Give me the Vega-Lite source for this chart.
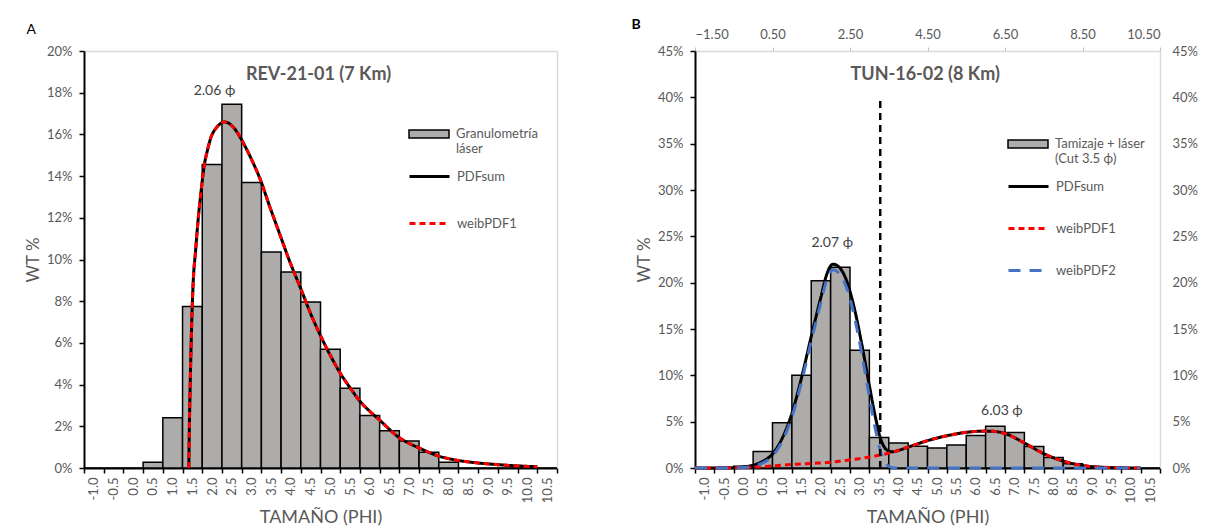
{
  "$schema": "https://vega.github.io/schema/vega-lite/v6.json",
  "background": "white",
  "padding": {"left": 24, "top": 18, "right": 5, "bottom": 0},
  "spacing": 73,
  "config": {
    "font": "Lato",
    "view": {"stroke": null},
    "axis": {"labelFont": "Lato", "labelColor": "#595959", "labelFontSize": 13, "titleFont": "Lato", "titleColor": "#595959", "titleFontWeight": "normal", "grid": false},
    "legend": {"labelFont": "Lato", "labelFontSize": 13, "labelColor": "#595959", "padding": 0},
    "title": {"font": "Lato"}
  },
  "resolve": {
    "scale": {"fill": "independent", "stroke": "independent", "strokeDash": "independent"},
    "legend": {"fill": "independent", "stroke": "independent", "strokeDash": "independent"}
  },
  "datasets": {
    "barsA": [
      {"bin": "-1.0", "wt": 0}, {"bin": "-0.5", "wt": 0}, {"bin": "0.0", "wt": 0}, {"bin": "0.5", "wt": 0.27},
      {"bin": "1.0", "wt": 2.41}, {"bin": "1.5", "wt": 7.75}, {"bin": "2.0", "wt": 14.56}, {"bin": "2.5", "wt": 17.45},
      {"bin": "3.0", "wt": 13.69}, {"bin": "3.5", "wt": 10.36}, {"bin": "4.0", "wt": 9.4}, {"bin": "4.5", "wt": 7.96},
      {"bin": "5.0", "wt": 5.7}, {"bin": "5.5", "wt": 3.82}, {"bin": "6.0", "wt": 2.52}, {"bin": "6.5", "wt": 1.79},
      {"bin": "7.0", "wt": 1.29}, {"bin": "7.5", "wt": 0.75}, {"bin": "8.0", "wt": 0.27}, {"bin": "8.5", "wt": 0},
      {"bin": "9.0", "wt": 0}, {"bin": "9.5", "wt": 0}, {"bin": "10.0", "wt": 0}, {"bin": "10.5", "wt": 0}
    ],
    "barsB": [
      {"bin": "-1.0", "wt": 0}, {"bin": "-0.5", "wt": 0}, {"bin": "0.0", "wt": 0.18}, {"bin": "0.5", "wt": 1.77},
      {"bin": "1.0", "wt": 4.87}, {"bin": "1.5", "wt": 10.0}, {"bin": "2.0", "wt": 20.2}, {"bin": "2.5", "wt": 21.66},
      {"bin": "3.0", "wt": 12.7}, {"bin": "3.5", "wt": 3.29}, {"bin": "4.0", "wt": 2.71}, {"bin": "4.5", "wt": 2.35},
      {"bin": "5.0", "wt": 2.17}, {"bin": "5.5", "wt": 2.49}, {"bin": "6.0", "wt": 3.5}, {"bin": "6.5", "wt": 4.51},
      {"bin": "7.0", "wt": 3.83}, {"bin": "7.5", "wt": 2.31}, {"bin": "8.0", "wt": 1.12}, {"bin": "8.5", "wt": 0.47},
      {"bin": "9.0", "wt": 0.14}, {"bin": "9.5", "wt": 0.07}, {"bin": "10.0", "wt": 0}, {"bin": "10.5", "wt": 0}
    ],
    "curvesA": [
      {"series": "PDFsum", "phi": 1.16, "pct": 0}, {"series": "PDFsum", "phi": 1.17, "pct": 1.6}, {"series": "PDFsum", "phi": 1.19, "pct": 3.6},
      {"series": "PDFsum", "phi": 1.23, "pct": 6.8}, {"series": "PDFsum", "phi": 1.27, "pct": 8.9}, {"series": "PDFsum", "phi": 1.33, "pct": 10.4},
      {"series": "PDFsum", "phi": 1.4, "pct": 12.0}, {"series": "PDFsum", "phi": 1.46, "pct": 13.1}, {"series": "PDFsum", "phi": 1.55, "pct": 14.5},
      {"series": "PDFsum", "phi": 1.64, "pct": 15.3}, {"series": "PDFsum", "phi": 1.72, "pct": 15.85}, {"series": "PDFsum", "phi": 1.85, "pct": 16.3},
      {"series": "PDFsum", "phi": 1.95, "pct": 16.5}, {"series": "PDFsum", "phi": 2.06, "pct": 16.6}, {"series": "PDFsum", "phi": 2.2, "pct": 16.5},
      {"series": "PDFsum", "phi": 2.35, "pct": 16.2}, {"series": "PDFsum", "phi": 2.48, "pct": 15.8}, {"series": "PDFsum", "phi": 2.75, "pct": 14.8},
      {"series": "PDFsum", "phi": 2.98, "pct": 13.8}, {"series": "PDFsum", "phi": 3.2, "pct": 12.6}, {"series": "PDFsum", "phi": 3.45, "pct": 11.3},
      {"series": "PDFsum", "phi": 3.7, "pct": 10.0}, {"series": "PDFsum", "phi": 4.0, "pct": 8.6}, {"series": "PDFsum", "phi": 4.25, "pct": 7.4},
      {"series": "PDFsum", "phi": 4.5, "pct": 6.35}, {"series": "PDFsum", "phi": 4.75, "pct": 5.4}, {"series": "PDFsum", "phi": 5.0, "pct": 4.55},
      {"series": "PDFsum", "phi": 5.25, "pct": 3.85}, {"series": "PDFsum", "phi": 5.5, "pct": 3.2}, {"series": "PDFsum", "phi": 5.75, "pct": 2.72},
      {"series": "PDFsum", "phi": 6.0, "pct": 2.3}, {"series": "PDFsum", "phi": 6.25, "pct": 1.85}, {"series": "PDFsum", "phi": 6.5, "pct": 1.45},
      {"series": "PDFsum", "phi": 6.75, "pct": 1.18}, {"series": "PDFsum", "phi": 7.0, "pct": 0.96}, {"series": "PDFsum", "phi": 7.25, "pct": 0.75},
      {"series": "PDFsum", "phi": 7.5, "pct": 0.57}, {"series": "PDFsum", "phi": 7.75, "pct": 0.45}, {"series": "PDFsum", "phi": 8.0, "pct": 0.36},
      {"series": "PDFsum", "phi": 8.5, "pct": 0.24}, {"series": "PDFsum", "phi": 9.0, "pct": 0.16}, {"series": "PDFsum", "phi": 9.5, "pct": 0.1},
      {"series": "PDFsum", "phi": 10.0, "pct": 0.06},
      {"series": "weibPDF1", "phi": 1.16, "pct": 0}, {"series": "weibPDF1", "phi": 1.17, "pct": 1.6}, {"series": "weibPDF1", "phi": 1.19, "pct": 3.6},
      {"series": "weibPDF1", "phi": 1.23, "pct": 6.8}, {"series": "weibPDF1", "phi": 1.27, "pct": 8.9}, {"series": "weibPDF1", "phi": 1.33, "pct": 10.4},
      {"series": "weibPDF1", "phi": 1.4, "pct": 12.0}, {"series": "weibPDF1", "phi": 1.46, "pct": 13.1}, {"series": "weibPDF1", "phi": 1.55, "pct": 14.5},
      {"series": "weibPDF1", "phi": 1.64, "pct": 15.3}, {"series": "weibPDF1", "phi": 1.72, "pct": 15.85}, {"series": "weibPDF1", "phi": 1.85, "pct": 16.3},
      {"series": "weibPDF1", "phi": 1.95, "pct": 16.5}, {"series": "weibPDF1", "phi": 2.06, "pct": 16.6}, {"series": "weibPDF1", "phi": 2.2, "pct": 16.5},
      {"series": "weibPDF1", "phi": 2.35, "pct": 16.2}, {"series": "weibPDF1", "phi": 2.48, "pct": 15.8}, {"series": "weibPDF1", "phi": 2.75, "pct": 14.8},
      {"series": "weibPDF1", "phi": 2.98, "pct": 13.8}, {"series": "weibPDF1", "phi": 3.2, "pct": 12.6}, {"series": "weibPDF1", "phi": 3.45, "pct": 11.3},
      {"series": "weibPDF1", "phi": 3.7, "pct": 10.0}, {"series": "weibPDF1", "phi": 4.0, "pct": 8.6}, {"series": "weibPDF1", "phi": 4.25, "pct": 7.4},
      {"series": "weibPDF1", "phi": 4.5, "pct": 6.35}, {"series": "weibPDF1", "phi": 4.75, "pct": 5.4}, {"series": "weibPDF1", "phi": 5.0, "pct": 4.55},
      {"series": "weibPDF1", "phi": 5.25, "pct": 3.85}, {"series": "weibPDF1", "phi": 5.5, "pct": 3.2}, {"series": "weibPDF1", "phi": 5.75, "pct": 2.72},
      {"series": "weibPDF1", "phi": 6.0, "pct": 2.3}, {"series": "weibPDF1", "phi": 6.25, "pct": 1.85}, {"series": "weibPDF1", "phi": 6.5, "pct": 1.45},
      {"series": "weibPDF1", "phi": 6.75, "pct": 1.18}, {"series": "weibPDF1", "phi": 7.0, "pct": 0.96}, {"series": "weibPDF1", "phi": 7.25, "pct": 0.75},
      {"series": "weibPDF1", "phi": 7.5, "pct": 0.57}, {"series": "weibPDF1", "phi": 7.75, "pct": 0.45}, {"series": "weibPDF1", "phi": 8.0, "pct": 0.36},
      {"series": "weibPDF1", "phi": 8.5, "pct": 0.24}, {"series": "weibPDF1", "phi": 9.0, "pct": 0.16}, {"series": "weibPDF1", "phi": 9.5, "pct": 0.1},
      {"series": "weibPDF1", "phi": 10.0, "pct": 0.06}
    ],
    "curvesB": [
      {"series": "PDFsum", "phi": -1.5, "pct": 0}, {"series": "PDFsum", "phi": -1.0, "pct": 0.01}, {"series": "PDFsum", "phi": -0.5, "pct": 0.04},
      {"series": "PDFsum", "phi": -0.25, "pct": 0.12}, {"series": "PDFsum", "phi": 0, "pct": 0.3}, {"series": "PDFsum", "phi": 0.25, "pct": 0.72},
      {"series": "PDFsum", "phi": 0.5, "pct": 1.52}, {"series": "PDFsum", "phi": 0.75, "pct": 3.2}, {"series": "PDFsum", "phi": 1.0, "pct": 5.88},
      {"series": "PDFsum", "phi": 1.25, "pct": 9.75}, {"series": "PDFsum", "phi": 1.5, "pct": 14.2}, {"series": "PDFsum", "phi": 1.75, "pct": 18.45},
      {"series": "PDFsum", "phi": 1.9, "pct": 20.9}, {"series": "PDFsum", "phi": 2.06, "pct": 22.0}, {"series": "PDFsum", "phi": 2.2, "pct": 21.75},
      {"series": "PDFsum", "phi": 2.4, "pct": 20.35}, {"series": "PDFsum", "phi": 2.6, "pct": 17.45}, {"series": "PDFsum", "phi": 2.8, "pct": 13.45},
      {"series": "PDFsum", "phi": 3.0, "pct": 8.88}, {"series": "PDFsum", "phi": 3.15, "pct": 5.6}, {"series": "PDFsum", "phi": 3.3, "pct": 3.05},
      {"series": "PDFsum", "phi": 3.45, "pct": 1.95}, {"series": "PDFsum", "phi": 3.6, "pct": 1.75}, {"series": "PDFsum", "phi": 3.75, "pct": 1.9},
      {"series": "PDFsum", "phi": 4.0, "pct": 2.25}, {"series": "PDFsum", "phi": 4.5, "pct": 2.95}, {"series": "PDFsum", "phi": 5.0, "pct": 3.48},
      {"series": "PDFsum", "phi": 5.5, "pct": 3.85}, {"series": "PDFsum", "phi": 6.0, "pct": 3.98}, {"series": "PDFsum", "phi": 6.2, "pct": 3.96},
      {"series": "PDFsum", "phi": 6.5, "pct": 3.72}, {"series": "PDFsum", "phi": 7.0, "pct": 2.7}, {"series": "PDFsum", "phi": 7.5, "pct": 1.55},
      {"series": "PDFsum", "phi": 8.0, "pct": 0.75}, {"series": "PDFsum", "phi": 8.5, "pct": 0.27}, {"series": "PDFsum", "phi": 9.0, "pct": 0.08},
      {"series": "PDFsum", "phi": 9.5, "pct": 0.02}, {"series": "PDFsum", "phi": 10.0, "pct": 0},
      {"series": "weibPDF1", "phi": -1.5, "pct": 0}, {"series": "weibPDF1", "phi": -1.0, "pct": 0.01}, {"series": "weibPDF1", "phi": -0.5, "pct": 0.03},
      {"series": "weibPDF1", "phi": 0, "pct": 0.1}, {"series": "weibPDF1", "phi": 0.5, "pct": 0.22}, {"series": "weibPDF1", "phi": 1.0, "pct": 0.38},
      {"series": "weibPDF1", "phi": 1.5, "pct": 0.5}, {"series": "weibPDF1", "phi": 2.0, "pct": 0.62}, {"series": "weibPDF1", "phi": 2.5, "pct": 0.88},
      {"series": "weibPDF1", "phi": 3.0, "pct": 1.18}, {"series": "weibPDF1", "phi": 3.5, "pct": 1.6}, {"series": "weibPDF1", "phi": 4.0, "pct": 2.25},
      {"series": "weibPDF1", "phi": 4.5, "pct": 2.95}, {"series": "weibPDF1", "phi": 5.0, "pct": 3.48}, {"series": "weibPDF1", "phi": 5.5, "pct": 3.85},
      {"series": "weibPDF1", "phi": 6.0, "pct": 3.98}, {"series": "weibPDF1", "phi": 6.2, "pct": 3.96}, {"series": "weibPDF1", "phi": 6.5, "pct": 3.72},
      {"series": "weibPDF1", "phi": 7.0, "pct": 2.7}, {"series": "weibPDF1", "phi": 7.5, "pct": 1.55}, {"series": "weibPDF1", "phi": 8.0, "pct": 0.75},
      {"series": "weibPDF1", "phi": 8.5, "pct": 0.27}, {"series": "weibPDF1", "phi": 9.0, "pct": 0.08}, {"series": "weibPDF1", "phi": 9.5, "pct": 0.02},
      {"series": "weibPDF1", "phi": 10.0, "pct": 0},
      {"series": "weibPDF2", "phi": -1.5, "pct": 0}, {"series": "weibPDF2", "phi": -1.0, "pct": 0}, {"series": "weibPDF2", "phi": -0.5, "pct": 0.01},
      {"series": "weibPDF2", "phi": -0.25, "pct": 0.05}, {"series": "weibPDF2", "phi": 0, "pct": 0.2}, {"series": "weibPDF2", "phi": 0.25, "pct": 0.55},
      {"series": "weibPDF2", "phi": 0.5, "pct": 1.3}, {"series": "weibPDF2", "phi": 0.75, "pct": 2.9}, {"series": "weibPDF2", "phi": 1.0, "pct": 5.5},
      {"series": "weibPDF2", "phi": 1.25, "pct": 9.3}, {"series": "weibPDF2", "phi": 1.5, "pct": 13.7}, {"series": "weibPDF2", "phi": 1.75, "pct": 17.9},
      {"series": "weibPDF2", "phi": 1.9, "pct": 20.3}, {"series": "weibPDF2", "phi": 2.06, "pct": 21.4}, {"series": "weibPDF2", "phi": 2.2, "pct": 21.1},
      {"series": "weibPDF2", "phi": 2.4, "pct": 19.6}, {"series": "weibPDF2", "phi": 2.6, "pct": 16.6}, {"series": "weibPDF2", "phi": 2.8, "pct": 12.4},
      {"series": "weibPDF2", "phi": 3.0, "pct": 7.7}, {"series": "weibPDF2", "phi": 3.15, "pct": 4.3}, {"series": "weibPDF2", "phi": 3.3, "pct": 1.6},
      {"series": "weibPDF2", "phi": 3.45, "pct": 0.35}, {"series": "weibPDF2", "phi": 3.6, "pct": 0.03}, {"series": "weibPDF2", "phi": 3.75, "pct": 0},
      {"series": "weibPDF2", "phi": 4.5, "pct": 0}, {"series": "weibPDF2", "phi": 6.0, "pct": 0}, {"series": "weibPDF2", "phi": 8.0, "pct": 0},
      {"series": "weibPDF2", "phi": 10.0, "pct": 0}
    ]
  },
  "hconcat": [
    {
      "title": {"text": "A", "anchor": "start", "fontSize": 14, "fontWeight": "normal", "color": "#000000", "dx": 2, "dy": -4},
      "width": 473,
      "height": 417,
      "layer": [
        {
          "data": {"name": "barsA"},
          "mark": {"type": "bar", "stroke": "#000000", "strokeWidth": 1.5},
          "encoding": {
            "x": {"field": "bin", "type": "ordinal", "sort": null, "scale": {"paddingInner": 0, "paddingOuter": 0},
              "axis": {"title": "TAMAÑO (PHI)", "titleFontSize": 18, "titlePadding": 6, "labelAngle": -90, "tickBand": "extent", "domainColor": "#000000", "domainWidth": 2, "tickColor": "#000000", "tickWidth": 1.5, "tickSize": 5, "labelPadding": 4}},
            "y": {"field": "wt", "type": "quantitative", "scale": {"domain": [0, 20], "nice": false},
              "axis": {"title": "WT %", "titleFontSize": 17, "titlePadding": 4, "values": [0, 2, 4, 6, 8, 10, 12, 14, 16, 18, 20], "labelExpr": "datum.value + '%'", "domainColor": "#000000", "domainWidth": 2, "tickColor": "#000000", "tickWidth": 1.5, "tickSize": 5, "labelPadding": 7}},
            "fill": {"datum": "Granulometría láser", "type": "nominal", "scale": {"range": ["#AEABAB"]},
              "legend": {"title": null, "orient": "none", "legendX": 324, "legendY": 62, "symbolType": "M-1,-0.2H1V0.2H-1Z", "symbolSize": 1600, "symbolStrokeColor": "#000000", "symbolStrokeWidth": 1.5, "labelOffset": 6,
                "labelExpr": "datum.label == 'Granulometría láser' ? ['Granulometría', 'láser'] : datum.label"}}
          }
        },
        {
          "data": {"name": "curvesA"},
          "mark": {"type": "line", "strokeWidth": 3, "interpolate": "monotone"},
          "encoding": {
            "x": {"field": "phi", "type": "quantitative", "scale": {"domain": [-1.5, 10.5], "nice": false, "zero": false},
              "axis": {"orient": "top", "title": null, "labels": false, "ticks": false, "domainColor": "#D9D9D9", "domainWidth": 1.5}},
            "y": {"field": "pct", "type": "quantitative",
              "axis": {"orient": "right", "title": null, "labels": false, "ticks": false, "domainColor": "#D9D9D9", "domainWidth": 1.5}},
            "stroke": {"field": "series", "type": "nominal", "scale": {"domain": ["PDFsum", "weibPDF1"], "range": ["#000000", "#FF0000"]},
              "legend": {"title": null, "orient": "none", "legendX": 324, "legendY": 104, "symbolType": "stroke", "symbolSize": 1600, "symbolStrokeWidth": 3, "rowPadding": 18, "labelOffset": 6}},
            "strokeDash": {"field": "series", "type": "nominal", "scale": {"domain": ["PDFsum", "weibPDF1"], "range": [[1, 0], [6, 4]]},
              "legend": {"title": null, "orient": "none", "legendX": 324, "legendY": 104, "symbolType": "stroke", "symbolSize": 1600, "symbolStrokeWidth": 3, "rowPadding": 18, "labelOffset": 6}}
          }
        },
        {
          "data": {"values": [{}]},
          "mark": {"type": "text", "fontSize": 14, "color": "#404040"},
          "encoding": {
            "x": {"datum": 1.81, "type": "quantitative", "scale": {"domain": [-1.5, 10.5], "nice": false, "zero": false}, "axis": null},
            "y": {"datum": 18.06, "type": "quantitative", "axis": null},
            "text": {"value": "2.06 ϕ"}
          }
        },
        {
          "data": {"values": [{}]},
          "mark": {"type": "text", "fontSize": 18, "fontWeight": "bold", "color": "#595959"},
          "encoding": {
            "x": {"datum": 4.45, "type": "quantitative", "scale": {"domain": [-1.5, 10.5], "nice": false, "zero": false}, "axis": null},
            "y": {"datum": 18.85, "type": "quantitative", "axis": null},
            "text": {"value": "REV-21-01 (7 Km)"}
          }
        }
      ],
      "resolve": {"scale": {"x": "independent"}, "axis": {"x": "independent", "y": "independent"}}
    },
    {
      "title": {"text": "B", "anchor": "start", "fontSize": 14, "fontWeight": "bold", "color": "#000000", "dx": -4, "dy": 8},
      "width": 465,
      "height": 417,
      "layer": [
        {
          "data": {"name": "barsB"},
          "mark": {"type": "bar", "stroke": "#000000", "strokeWidth": 1.5},
          "encoding": {
            "x": {"field": "bin", "type": "ordinal", "sort": null, "scale": {"paddingInner": 0, "paddingOuter": 0},
              "axis": {"title": "TAMAÑO (PHI)", "titleFontSize": 18, "titlePadding": 6, "labelAngle": -90, "tickBand": "extent", "domainColor": "#000000", "domainWidth": 2, "tickColor": "#000000", "tickWidth": 1.5, "tickSize": 5, "labelPadding": 4}},
            "y": {"field": "wt", "type": "quantitative", "scale": {"domain": [0, 45], "nice": false},
              "axis": {"title": "WT %", "titleFontSize": 17, "titlePadding": 4, "values": [0, 5, 10, 15, 20, 25, 30, 35, 40, 45], "labelExpr": "datum.value + '%'", "domainColor": "#000000", "domainWidth": 2, "tickColor": "#000000", "tickWidth": 1.5, "tickSize": 5, "labelPadding": 7}},
            "fill": {"datum": "Tamizaje + láser (Cut 3.5 ϕ)", "type": "nominal", "scale": {"range": ["#AEABAB"]},
              "legend": {"title": null, "orient": "none", "legendX": 312, "legendY": 72, "symbolType": "M-1,-0.2H1V0.2H-1Z", "symbolSize": 1600, "symbolStrokeColor": "#000000", "symbolStrokeWidth": 1.5, "labelOffset": 6,
                "labelExpr": "datum.label == 'Tamizaje + láser (Cut 3.5 ϕ)' ? ['Tamizaje + láser', '(Cut 3.5 ϕ)'] : datum.label"}}
          }
        },
        {
          "data": {"name": "curvesB"},
          "mark": {"type": "line", "strokeWidth": 3, "interpolate": "monotone"},
          "encoding": {
            "x": {"field": "phi", "type": "quantitative", "scale": {"domain": [-1.5, 10.5], "nice": false, "zero": false},
              "axis": {"orient": "top", "title": null, "values": [-1.5, 0.5, 2.5, 4.5, 6.5, 8.5, 10.5], "format": ".2f", "tickColor": "#BFBFBF", "tickSize": 4, "labelPadding": 6, "domainColor": "#D9D9D9", "domainWidth": 1.5}},
            "y": {"field": "pct", "type": "quantitative",
              "axis": {"orient": "right", "title": null, "values": [0, 5, 10, 15, 20, 25, 30, 35, 40, 45], "labelExpr": "datum.value + '%'", "ticks": false, "labelPadding": 12, "domainColor": "#D9D9D9", "domainWidth": 1.5}},
            "stroke": {"field": "series", "type": "nominal", "scale": {"domain": ["PDFsum", "weibPDF1", "weibPDF2"], "range": ["#000000", "#FF0000", "#4472C4"]},
              "legend": {"title": null, "orient": "none", "legendX": 312, "legendY": 114, "symbolType": "stroke", "symbolSize": 1600, "symbolStrokeWidth": 3, "rowPadding": 13, "labelOffset": 6}},
            "strokeDash": {"field": "series", "type": "nominal", "scale": {"domain": ["PDFsum", "weibPDF1", "weibPDF2"], "range": [[1, 0], [6, 4], [12, 9]]},
              "legend": {"title": null, "orient": "none", "legendX": 312, "legendY": 114, "symbolType": "stroke", "symbolSize": 1600, "symbolStrokeWidth": 3, "rowPadding": 13, "labelOffset": 6}}
          }
        },
        {
          "data": {"values": [{}]},
          "mark": {"type": "rule", "strokeWidth": 2.5, "strokeDash": [7, 5], "color": "#000000"},
          "encoding": {
            "x": {"datum": 3.28, "type": "quantitative", "scale": {"domain": [-1.5, 10.5], "nice": false, "zero": false}, "axis": null},
            "y": {"datum": 0, "type": "quantitative", "axis": null},
            "y2": {"datum": 39.6}
          }
        },
        {
          "data": {"values": [{}]},
          "mark": {"type": "text", "fontSize": 14, "color": "#404040"},
          "encoding": {
            "x": {"datum": 2.04, "type": "quantitative", "scale": {"domain": [-1.5, 10.5], "nice": false, "zero": false}, "axis": null},
            "y": {"datum": 24.3, "type": "quantitative", "axis": null},
            "text": {"value": "2.07 ϕ"}
          }
        },
        {
          "data": {"values": [{}]},
          "mark": {"type": "text", "fontSize": 14, "color": "#404040"},
          "encoding": {
            "x": {"datum": 6.42, "type": "quantitative", "scale": {"domain": [-1.5, 10.5], "nice": false, "zero": false}, "axis": null},
            "y": {"datum": 6.2, "type": "quantitative", "axis": null},
            "text": {"value": "6.03 ϕ"}
          }
        },
        {
          "data": {"values": [{}]},
          "mark": {"type": "text", "fontSize": 18, "fontWeight": "bold", "color": "#595959"},
          "encoding": {
            "x": {"datum": 4.44, "type": "quantitative", "scale": {"domain": [-1.5, 10.5], "nice": false, "zero": false}, "axis": null},
            "y": {"datum": 42.4, "type": "quantitative", "axis": null},
            "text": {"value": "TUN-16-02 (8 Km)"}
          }
        }
      ],
      "resolve": {"scale": {"x": "independent"}, "axis": {"x": "independent", "y": "independent"}}
    }
  ]
}
